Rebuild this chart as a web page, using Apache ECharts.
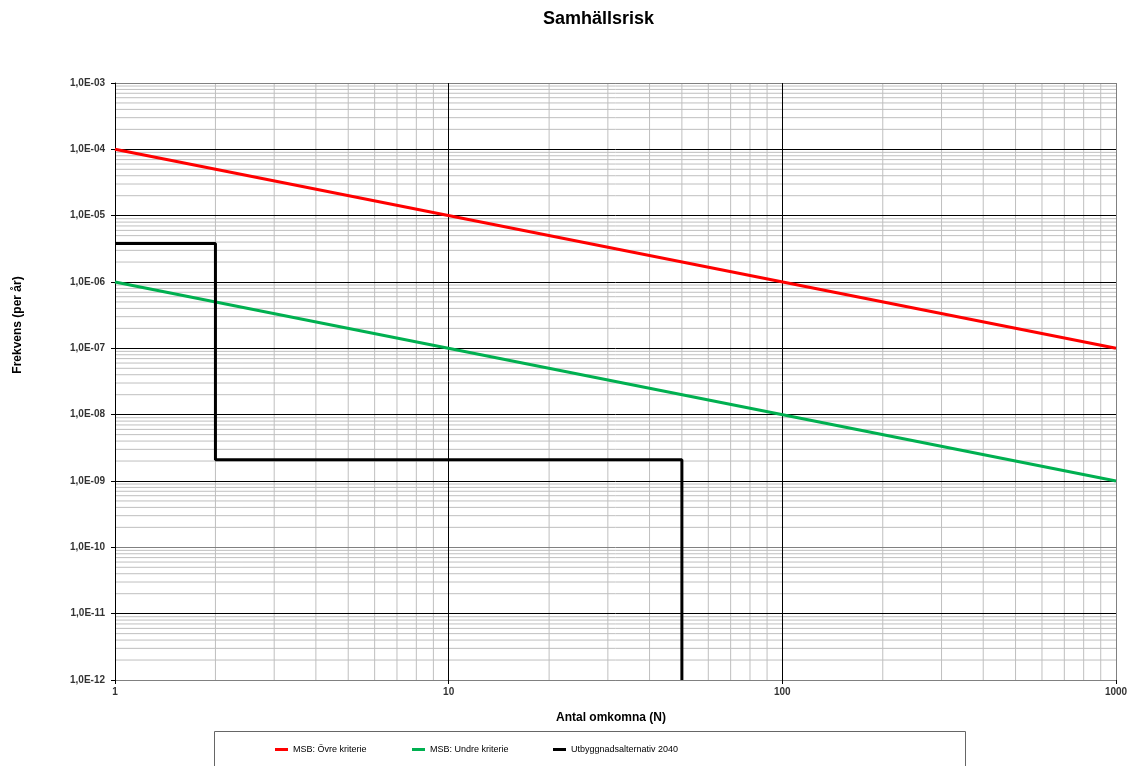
<!DOCTYPE html>
<html>
<head>
<meta charset="utf-8">
<title>Samhällsrisk</title>
<script src="https://cdn.jsdelivr.net/npm/echarts@6/dist/echarts.min.js"></script>
<style>
  html, body { margin: 0; padding: 0; background: #fff; }
  #chart { width: 1135px; height: 766px; }
</style>
</head>
<body>
<div id="chart"></div>
<script>
// series data (N, frequency per year)
const upperLimit = [[1, 1e-4], [1000, 1e-7]];
const lowerLimit = [[1, 1e-6], [1000, 1e-9]];
const alt2040 = [[1, 3.8e-6], [2, 3.8e-6], [2, 2.1e-9], [50, 2.1e-9], [50, 1e-12]];

const seriesNames = ['MSB: Övre kriterie', 'MSB: Undre kriterie', 'Utbyggnadsalternativ 2040'];
const seriesColors = ['#ff0000', '#00b050', '#000000'];

// grid of the log paper: decades and the steps inside each one
const xDecades = [1, 10, 100];
const yDecades = [1e-12, 1e-11, 1e-10, 1e-9, 1e-8, 1e-7, 1e-6, 1e-5, 1e-4];
const minorSteps = [2, 3, 4, 5, 6, 7, 8, 9];
const xRange = [1, 1000];
const yRange = [1e-12, 1e-3];

const fontFamily = 'Arial, "Liberation Sans", sans-serif';

const expLabel = function (v) {
    let e = Math.round(Math.log10(v));
    let a = Math.abs(e);
    return '1,0E' + (e < 0 ? '-' : '+') + (a < 10 ? '0' + a : a);
};

// thin grey lines of the log paper, drawn as plain two point series
let gridSeries = [];
const gridLine = function (data) {
    gridSeries.push({
        type: 'line',
        data: data,
        symbol: 'none',
        silent: true,
        z: 1,
        lineStyle: { color: '#bfbfbf', width: 1 }
    });
};
xDecades.forEach(d => minorSteps.forEach(s => gridLine([[d * s, yRange[0]], [d * s, yRange[1]]])));
yDecades.forEach(d => minorSteps.forEach(s => {
    let v = +(d * s).toPrecision(3);
    gridLine([[xRange[0], v], [xRange[1], v]]);
}));

const lineSeries = function (i, data) {
    return {
        name: seriesNames[i],
        type: 'line',
        data: data,
        symbol: 'none',
        z: 5,
        lineStyle: { color: seriesColors[i], width: 3 },
        itemStyle: { color: seriesColors[i] }
    };
};

const legendAt = function (i, left) {
    return {
        data: [seriesNames[i]],
        left: left,
        top: 740,
        icon: 'rect',
        itemWidth: 13,
        itemHeight: 3,
        textStyle: { fontSize: 9, color: '#000', fontFamily: fontFamily }
    };
};

let chart = echarts.init(document.getElementById('chart'));
let option = {
    backgroundColor: '#fff',
    animation: false,
    title: {
        text: 'Samhällsrisk',
        left: 538,
        top: 5,
        textStyle: { fontSize: 18, fontWeight: 'bold', color: '#000', fontFamily: fontFamily }
    },
    grid: { left: 115, right: 19, top: 83, bottom: 86 },
    xAxis: {
        type: 'log',
        logBase: 10,
        min: xRange[0],
        max: xRange[1],
        z: 3,
        axisLine: { lineStyle: { color: '#808080', width: 1 } },
        axisTick: { show: true, length: 4, lineStyle: { color: '#000' } },
        axisLabel: {
            fontSize: 10, fontWeight: 'bold', color: '#333', fontFamily: fontFamily, margin: 7,
            formatter: v => String(Math.round(v))
        },
        splitLine: { show: true, lineStyle: { color: ['#000', '#000', '#000', '#808080'], width: 1 } }
    },
    yAxis: {
        type: 'log',
        logBase: 10,
        min: yRange[0],
        max: yRange[1],
        z: 3,
        axisLine: { onZero: false, lineStyle: { color: '#000', width: 1 } },
        axisTick: { show: true, length: 4, lineStyle: { color: '#000' } },
        axisLabel: {
            fontSize: 10, fontWeight: 'bold', color: '#333', fontFamily: fontFamily, margin: 10,
            formatter: expLabel
        },
        splitLine: {
            show: true,
            lineStyle: { color: ['#808080', '#000', '#808080', '#000', '#000', '#000', '#000', '#000', '#000', '#808080'], width: 1 }
        }
    },
    legend: [legendAt(0, 270), legendAt(1, 407), legendAt(2, 548)],
    graphic: [
        {
            type: 'rect',
            silent: true,
            shape: { x: 214.5, y: 731.5, width: 751, height: 60 },
            style: { fill: 'none', stroke: '#666', lineWidth: 1 }
        },
        {
            type: 'text',
            x: 18,
            y: 325,
            rotation: Math.PI / 2,
            style: {
                text: 'Frekvens (per år)', x: 0, y: 0, align: 'center', verticalAlign: 'middle',
                font: 'bold 12px ' + fontFamily, fill: '#000'
            }
        },
        {
            type: 'text',
            x: 611,
            y: 718,
            style: {
                text: 'Antal omkomna (N)', x: 0, y: 0, align: 'center', verticalAlign: 'middle',
                font: 'bold 12px ' + fontFamily, fill: '#000'
            }
        }
    ],
    series: gridSeries.concat([
        lineSeries(0, upperLimit),
        lineSeries(1, lowerLimit),
        lineSeries(2, alt2040)
    ])
};
chart.setOption(option);
</script>
</body>
</html>
